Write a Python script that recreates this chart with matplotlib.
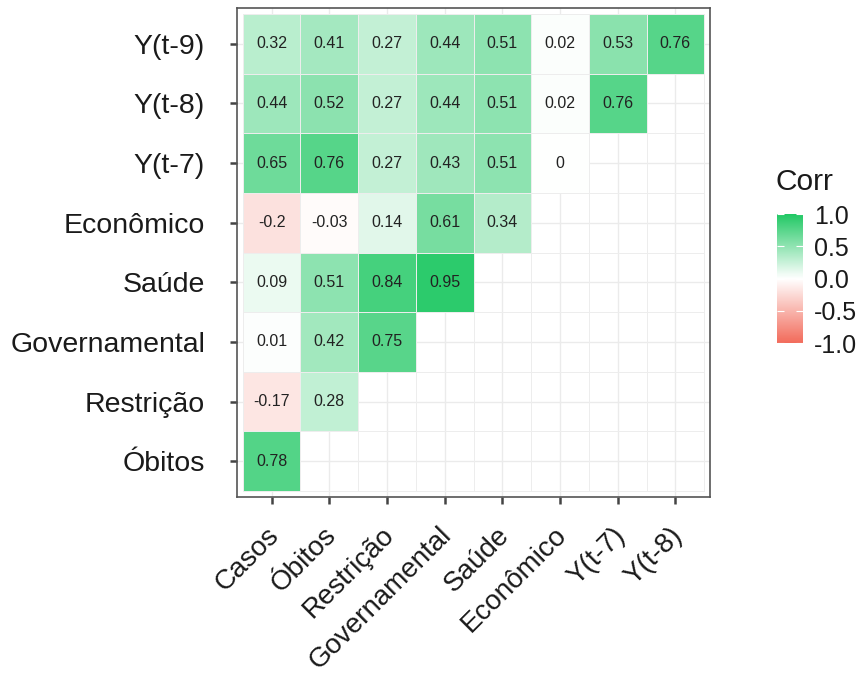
import numpy as np
import matplotlib.pyplot as plt
from matplotlib.colors import LinearSegmentedColormap, Normalize
from matplotlib.transforms import ScaledTranslation

plt.rcParams["font.family"] = ["Liberation Sans", "DejaVu Sans"]

# variables on the x axis (left to right) and y axis (bottom to top)
col_labels = ["Casos", "Óbitos", "Restrição", "Governamental", "Saúde",
              "Econômico", "Y(t-7)", "Y(t-8)"]
row_labels = ["Óbitos", "Restrição", "Governamental", "Saúde", "Econômico",
              "Y(t-7)", "Y(t-8)", "Y(t-9)"]

# lower-triangle correlations, one list per row (starting at Casos)
corr_obitos = [0.78]
corr_restricao = [-0.17, 0.28]
corr_governamental = [0.01, 0.42, 0.75]
corr_saude = [0.09, 0.51, 0.84, 0.95]
corr_economico = [-0.2, -0.03, 0.14, 0.61, 0.34]
corr_yt7 = [0.65, 0.76, 0.27, 0.43, 0.51, 0]
corr_yt8 = [0.44, 0.52, 0.27, 0.44, 0.51, 0.02, 0.76]
corr_yt9 = [0.32, 0.41, 0.27, 0.44, 0.51, 0.02, 0.53, 0.76]

rows = [corr_obitos, corr_restricao, corr_governamental, corr_saude,
        corr_economico, corr_yt7, corr_yt8, corr_yt9]

n_r, n_c = len(row_labels), len(col_labels)
mat = np.full((n_r, n_c), np.nan)
for i, r in enumerate(rows):
    mat[i, :len(r)] = r
mat = np.ma.masked_invalid(mat)

cmap = LinearSegmentedColormap.from_list("corr", ["#F26B5B", "#FFFFFF", "#22C865"])
norm = Normalize(-1, 1)

fig = plt.figure(figsize=(8.66, 6.79), dpi=100)
ax = fig.add_axes([0.2737, 0.268, 0.5462, 0.7202])

ax.set_axisbelow(True)
ax.grid(True, color="#EBEBEB", lw=1.0)
ax.pcolormesh(np.arange(n_c + 1) - 0.5, np.arange(n_r + 1) - 0.5, mat,
              cmap=cmap, norm=norm, edgecolors="#EDEDED", linewidth=0.4)

for i, r in enumerate(rows):
    for j, v in enumerate(r):
        ax.text(j, i, f"{v:g}", ha="center", va="center", fontsize=11.5, color="#222222")

ax.set_xlim(-0.6, n_c - 0.4)
ax.set_ylim(-0.6, n_r - 0.4)
ax.set_xticks(range(n_c))
ax.set_yticks(range(n_r))
ax.set_xticklabels(col_labels, rotation=45, ha="right", va="top",
                   rotation_mode="anchor", fontsize=20, color="#1A1A1A")
ax.set_yticklabels(row_labels, fontsize=20.5, color="#1A1A1A")
ax.tick_params(length=5, width=1.8, color="#444444")
ax.tick_params(axis="y", pad=18)
ax.tick_params(axis="x", pad=13)
shift = ScaledTranslation(-6 / 100, 0, fig.dpi_scale_trans)
for lbl in ax.get_xticklabels():
    lbl.set_transform(lbl.get_transform() + shift)
for s in ax.spines.values():
    s.set_color("#555555")
    s.set_linewidth(1.2)

# colour legend
cax = fig.add_axes([0.897, 0.4948, 0.030, 0.190])
cb = fig.colorbar(plt.cm.ScalarMappable(norm=norm, cmap=cmap), cax=cax,
                  ticks=[-1.0, -0.5, 0.0, 0.5, 1.0])
cb.outline.set_visible(False)
cb.ax.set_yticklabels(["-1.0", "-0.5", "0.0", "0.5", "1.0"])
cb.ax.tick_params(left=True, right=True, direction="in", color="white",
                  length=5, width=0.8, labelsize=18, pad=8, labelcolor="#1A1A1A")
fig.text(0.896, 0.732, "Corr", fontsize=21.5, ha="left", va="center", color="#1A1A1A")

fig.savefig("out.png", dpi=100)
